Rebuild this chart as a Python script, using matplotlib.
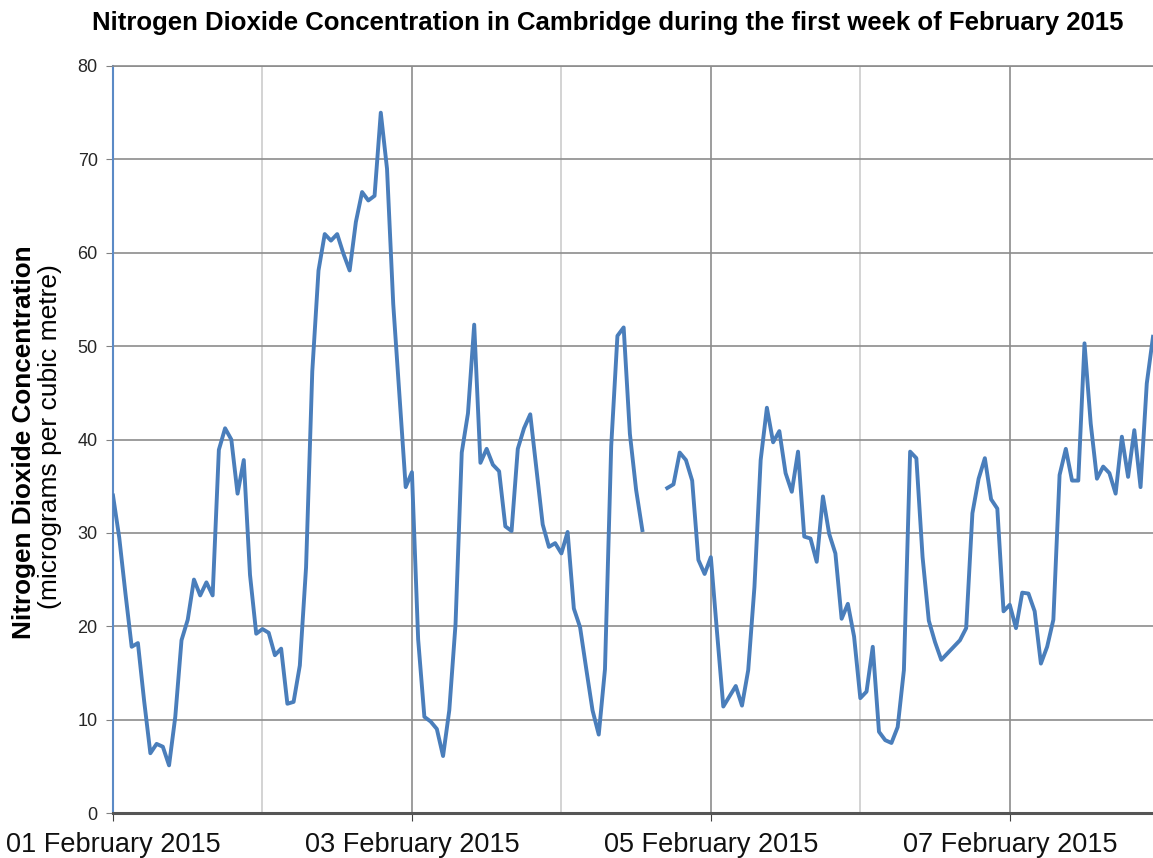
import numpy as np
import pandas as pd
import matplotlib
matplotlib.use("Agg")
import matplotlib.pyplot as plt
import matplotlib.dates as mdates

plt.rcParams['font.family'] = ['Liberation Sans', 'DejaVu Sans']

# hourly NO2 readings (micrograms per cubic metre), one list per day
feb01 = [34.0, 29.5, 23.5, 17.8, 18.2, 12.0, 6.4, 7.4, 7.1, 5.1, 10.3, 18.5,
         20.7, 25.0, 23.3, 24.7, 23.3, 38.9, 41.2, 40.0, 34.2, 37.8, 25.5, 19.2]
feb02 = [19.7, 19.3, 16.9, 17.6, 11.7, 11.9, 15.8, 26.3, 47.3, 58.1, 62.0, 61.3,
         62.0, 59.9, 58.1, 63.3, 66.5, 65.6, 66.1, 75.0, 69.0, 54.5, 44.7, 34.9]
feb03 = [36.5, 18.6, 10.3, 9.8, 9.0, 6.1, 11.0, 20.2, 38.6, 42.8, 52.3, 37.5,
         39.0, 37.3, 36.6, 30.7, 30.2, 39.0, 41.2, 42.7, 36.8, 30.9, 28.5, 28.9]
feb04 = [27.8, 30.1, 21.9, 19.9, 15.4, 11.0, 8.4, 15.4, 39.3, 51.1, 52.0, 40.6,
         34.6, 30.3, np.nan, np.nan, np.nan, 34.8, 35.2, 38.6, 37.8, 35.6, 27.1, 25.6]
feb05 = [27.4, 19.3, 11.4, 12.5, 13.6, 11.5, 15.3, 24.2, 37.8, 43.4, 39.7, 40.9,
         36.4, 34.4, 38.7, 29.6, 29.4, 26.9, 33.9, 29.9, 27.8, 20.8, 22.4, 18.9]
feb06 = [12.3, 13.0, 17.8, 8.7, 7.8, 7.5, 9.2, 15.3, 38.7, 38.0, 27.4, 20.6,
         18.3, 16.4, 17.1, 17.8, 18.5, 19.8, 32.1, 35.8, 38.0, 33.6, 32.6, 21.6]
feb07 = [22.3, 19.8, 23.6, 23.5, 21.6, 16.0, 17.8, 20.7, 36.2, 39.0, 35.6, 35.6,
         50.3, 41.7, 35.8, 37.1, 36.4, 34.2, 40.3, 36.0, 41.0, 34.9, 46.0, 51.0]

no2 = np.array(feb01 + feb02 + feb03 + feb04 + feb05 + feb06 + feb07)
times = pd.date_range("2015-02-01 00:00", periods=len(no2), freq="h")

fig = plt.figure(figsize=(11.53, 8.58), dpi=100)
ax = fig.add_axes([113 / 1153, 1 - 813 / 858, 1 - 113 / 1153, (813 - 66) / 858])

ax.plot(times, no2, color="#4a7ebb", linewidth=2.8, zorder=3)

ax.set_xlim(times[0], times[-1])
ax.set_ylim(0, 80)
ax.set_yticks(np.arange(0, 81, 10))

ax.xaxis.set_major_locator(mdates.DayLocator(bymonthday=[1, 3, 5, 7]))
ax.xaxis.set_minor_locator(mdates.DayLocator())
ax.xaxis.set_major_formatter(mdates.DateFormatter("%d %B %Y"))

ax.grid(axis="y", color="#8c8c8c", linewidth=1.2)
ax.grid(axis="x", which="major", color="#8c8c8c", linewidth=1.2)
ax.grid(axis="x", which="minor", color="#cccccc", linewidth=1.2)
ax.set_axisbelow(True)

ax.tick_params(axis="y", direction="out", length=5, color="#808080",
               labelsize=13, labelcolor="#262626", pad=6)
ax.tick_params(axis="x", which="major", direction="out", length=6, color="#404040",
               labelsize=19.5, labelcolor="#111111", pad=8)
ax.tick_params(axis="x", which="minor", length=0)

ax.spines["top"].set_color("#8c8c8c")
ax.spines["top"].set_linewidth(1.2)
ax.spines["right"].set_visible(False)
ax.spines["left"].set_color("#5b8ac6")
ax.spines["left"].set_linewidth(1.5)
ax.spines["bottom"].set_color("#555555")
ax.spines["bottom"].set_linewidth(2.2)

fig.text(608 / 1153, 1 - 23 / 858, "Nitrogen Dioxide Concentration in Cambridge during the first week of February 2015",
         ha="center", va="center", fontsize=18.5, fontweight="bold")
fig.text(24 / 1153, 1 - 442 / 858, "Nitrogen Dioxide Concentration", rotation=90,
         ha="center", va="center", fontsize=18.8, fontweight="bold")
fig.text(50 / 1153, 1 - 437 / 858, "(micrograms per cubic metre)", rotation=90,
         ha="center", va="center", fontsize=19)

fig.savefig("out.png", dpi=100)
